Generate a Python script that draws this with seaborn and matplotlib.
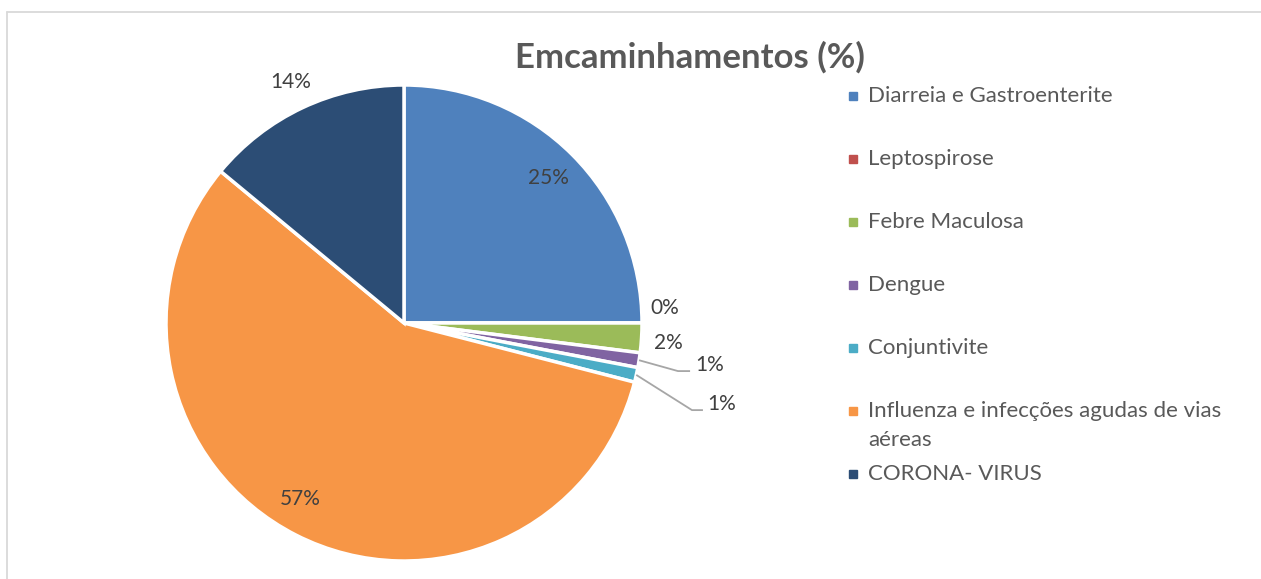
import matplotlib
matplotlib.use("Agg")
import matplotlib.pyplot as plt
import seaborn as sns
import numpy as np
from matplotlib.patches import Rectangle
from matplotlib.lines import Line2D

# Data
categories = [
    "Diarreia e Gastroenterite",
    "Leptospirose",
    "Febre Maculosa",
    "Dengue",
    "Conjuntivite",
    "Influenza e infecções agudas de vias aéreas",
    "CORONA- VIRUS",
]
values = [25, 0, 2, 1, 1, 57, 14]
pct_labels = ["25%", "0%", "2%", "1%", "1%", "57%", "14%"]
colors = ["#4F81BD", "#C0504D", "#9BBB59", "#8064A2", "#4BACC6", "#F79646", "#2C4D75"]
title = "Emcaminhamentos (%)"

sns.set_theme(style="white")
plt.rcParams["font.family"] = ["Lato", "DejaVu Sans"]
palette = sns.color_palette(colors)

W, H = 1261, 579
fig = plt.figure(figsize=(W / 100, H / 100), dpi=100)
fig.patch.set_facecolor("white")

def fx(x):
    return x / W

def fy(y):
    return 1 - y / H

# Outer chart frame
fig.add_artist(Line2D([fx(7), fx(W + 5)], [fy(12), fy(12)], color="#D9D9D9", lw=1.3))
fig.add_artist(Line2D([fx(7), fx(7)], [fy(12), fy(H + 5)], color="#D9D9D9", lw=1.3))

# Pie axes: square box centred on the pie
cx, cy, R = 404, 323, 238
ax = fig.add_axes([fx(cx - R), fy(cy + R), 2 * R / W, 2 * R / H])
wedges, _ = ax.pie(values, colors=palette, startangle=90, counterclock=False,
                   wedgeprops=dict(edgecolor="white", linewidth=2.5))
ax.set_xlim(-1, 1)
ax.set_ylim(-1, 1)
ax.set_aspect("equal")
ax.axis("off")

# Data labels: placement per slice (radius factor / explicit spot / leader line)
label_color = "#404040"
fs_lbl = 15
mid = [np.deg2rad((w.theta1 + w.theta2) / 2) for w in wedges]
radial = {0: 0.86, 5: 0.86, 6: 1.12}
shift = {0: 0.0, 5: -3.5, 6: 0.0}
for i, r in radial.items():
    a = mid[i] + np.deg2rad(shift[i])
    ax.text(r * np.cos(a), r * np.sin(a), pct_labels[i], ha="center", va="center",
            fontsize=fs_lbl, color=label_color, clip_on=False)
ax.text(1.097, 0.063, pct_labels[1], ha="center", va="center", fontsize=fs_lbl, color=label_color, clip_on=False)
ax.text(1.11, -0.084, pct_labels[2], ha="center", va="center", fontsize=fs_lbl, color=label_color, clip_on=False)

leaders = {3: ((1.151, -0.202), (1.202, -0.202), (1.223, -0.176)),
           4: ((1.210, -0.366), (1.256, -0.366), (1.273, -0.340))}
for i, (elbow, end, txt) in leaders.items():
    sx, sy = np.cos(mid[i]), np.sin(mid[i])
    ax.plot([sx, elbow[0], end[0]], [sy, elbow[1], end[1]], color="#A6A6A6", lw=1.3,
            clip_on=False, solid_capstyle="butt")
    ax.text(txt[0], txt[1], pct_labels[i], ha="left", va="center", fontsize=fs_lbl,
            color=label_color, clip_on=False)

# Title
fig.text(fx(690), fy(57), title, ha="center", va="center", fontsize=25, fontweight="bold",
         color="#595959")

# Legend
leg_x, leg_y0, step = 853, 96, 63
legend_fs = 16
for i, (name, col) in enumerate(zip(categories, palette)):
    y = leg_y0 + i * step
    fig.add_artist(Rectangle((fx(leg_x - 4), fy(y + 4)), 8 / W, 8 / H, color=col,
                             transform=fig.transFigure))
    if name.startswith("Influenza"):
        first, second = "Influenza e infecções agudas de vias", "aéreas"
        fig.text(fx(868), fy(y), first, ha="left", va="center", fontsize=legend_fs, color="#595959")
        fig.text(fx(868), fy(y + 29), second, ha="left", va="center", fontsize=legend_fs, color="#595959")
    else:
        fig.text(fx(868), fy(y), name, ha="left", va="center", fontsize=legend_fs, color="#595959")

fig.savefig("out.png", dpi=100, facecolor="white")
